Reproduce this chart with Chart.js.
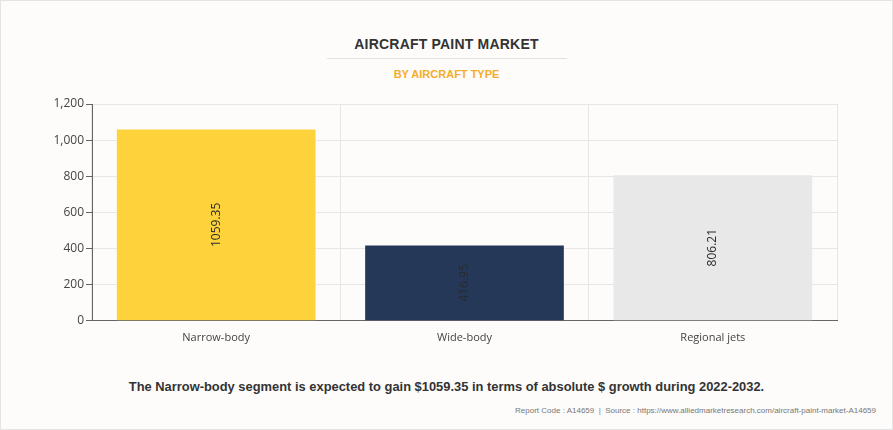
<!DOCTYPE html>
<html>
<head>
<meta charset="utf-8">
<script src="https://cdn.jsdelivr.net/npm/chart.js@4.4.0/dist/chart.umd.min.js"></script>
<style>
  html, body { margin: 0; padding: 0; }
  body { width: 893px; height: 430px; background: #fdfcfb; position: relative; overflow: hidden; font-family: "Liberation Sans", Arial, sans-serif; }
  .frame { position: absolute; left: 0; top: 0; width: 891px; height: 428px; border: 1px solid #e4e4e4; }
  .title { position: absolute; left: 0; width: 893px; top: 36px; text-align: center; font-weight: bold; font-size: 14px; color: #333; letter-spacing: 0.2px; }
  .rule { position: absolute; left: 327px; width: 240px; top: 58px; height: 1px; background: #e2e2e2; }
  .subtitle { position: absolute; left: 0; width: 893px; top: 68px; text-align: center; font-weight: bold; font-size: 11px; color: #f5ac2a; }
  .chart-box { position: absolute; left: 0; top: 90px; width: 893px; height: 264px; }
  .note { position: absolute; left: 0; width: 893px; top: 379px; text-align: center; font-weight: bold; font-size: 12.9px; color: #333; }
  .source { position: absolute; right: 17px; top: 406px; font-size: 8px; color: #777; }
</style>
</head>
<body>
<div class="frame"></div>
<div class="title">AIRCRAFT PAINT MARKET</div>
<div class="rule"></div>
<div class="subtitle">BY AIRCRAFT TYPE</div>
<div class="chart-box"><canvas id="paintChart"></canvas></div>
<div class="note">The Narrow-body segment is expected to gain $1059.35 in terms of absolute $ growth during 2022-2032.</div>
<div class="source">Report Code : A14659 &nbsp;|&nbsp; Source : https://www.alliedmarketresearch.com/aircraft-paint-market-A14659</div>

<script>
// Data
const categories = ['Narrow-body', 'Wide-body', 'Regional jets'];
const marketValues = [1059.35, 416.95, 806.21];
const barColors = ['#fdd23a', '#253858', '#e8e8e8'];
const yTicks = [0, 200, 400, 600, 800, 1000, 1200];

// Rotated value labels in the middle of each bar
const barLabels = {
    id: 'barLabels',
    afterDatasetsDraw(chart) {
        const ctx = chart.ctx;
        const meta = chart.getDatasetMeta(0);
        ctx.save();
        ctx.font = '12px "Open Sans", sans-serif';
        ctx.fillStyle = '#2a2a2a';
        ctx.textAlign = 'center';
        ctx.textBaseline = 'middle';
        meta.data.forEach((bar, i) => {
            const midY = (bar.y + bar.base) / 2;
            ctx.save();
            ctx.translate(bar.x, midY);
            ctx.rotate(-Math.PI / 2);
            ctx.fillText(marketValues[i].toFixed(2), 0, 0);
            ctx.restore();
        });
        ctx.restore();
    }
};

const ctx = document.getElementById('paintChart').getContext('2d');
new Chart(ctx, {
    type: 'bar',
    data: {
        labels: categories,
        datasets: [{
            data: marketValues,
            backgroundColor: barColors,
            borderWidth: 0,
            categoryPercentage: 0.8,
            barPercentage: 1
        }]
    },
    options: {
        responsive: true,
        maintainAspectRatio: false,
        animation: false,
        layout: { padding: { left: 0, right: 56, top: 14, bottom: 0 } },
        plugins: {
            legend: { display: false },
            tooltip: { enabled: false }
        },
        scales: {
            x: {
                grid: { color: '#e6e6e6', offset: true, drawTicks: false },
                border: { color: '#666' },
                ticks: { color: '#444', padding: 10, font: { family: '"Open Sans", sans-serif', size: 11 } }
            },
            y: {
                min: 0,
                max: 1200,
                afterFit(scale) { scale.width = 92; },
                afterBuildTicks(scale) { scale.ticks = yTicks.map(v => ({ value: v })); },
                grid: { color: '#e6e6e6', tickColor: '#666', tickLength: 6 },
                border: { color: '#666' },
                ticks: {
                    color: '#444',
                    padding: 2,
                    font: { family: '"Open Sans", sans-serif', size: 12 },
                    callback: v => v.toLocaleString('en-US')
                }
            }
        }
    },
    plugins: [barLabels]
});
</script>
</body>
</html>
